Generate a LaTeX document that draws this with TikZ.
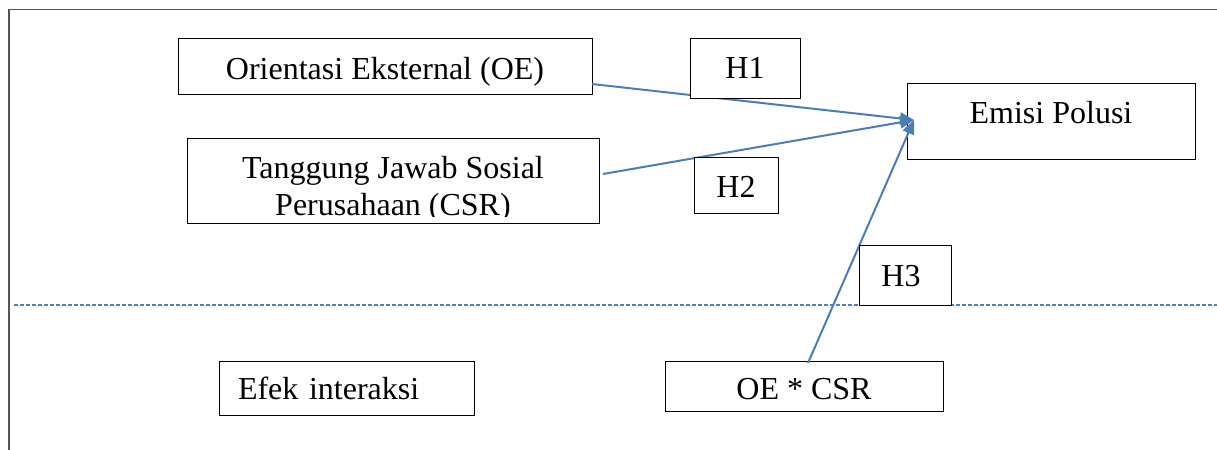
\documentclass[tikz,border=0pt]{standalone}
\usepackage{fontspec}
\setmainfont{Liberation Serif}
\usetikzlibrary{arrows.meta}
\definecolor{arrowblue}{HTML}{4A7EBB}
\definecolor{dashblue}{HTML}{4F81BD}
\definecolor{framegray}{HTML}{555555}
\tikzset{
  box/.style={draw=black, line width=0.5pt, fill=white, inner sep=0pt,
    font=\fontsize{16}{18.5}\selectfont},
  link/.style={draw=arrowblue, line width=1pt, -{Triangle[length=7pt,width=6pt]}},
  sep/.style={draw=dashblue, line width=0.6pt, dash pattern=on 2pt off 1pt},
  frame/.style={draw=framegray, line width=0.7pt},
}
\begin{document}
\begin{tikzpicture}[x=0.5pt,y=-0.5pt]
\useasboundingbox (0,0) rectangle (1217,450);
% frame
\coordinate (fl) at (9,450);
\coordinate (fc) at (9,9.5);
\coordinate (fr) at (1217,9.5);
\draw[frame] (fl) -- (fc) -- (fr);
% separator
\coordinate (sl) at (14,305);
\coordinate (sr) at (1217,305);
\draw[sep] (sl) -- (sr);
% boxes drawn beneath arrows
\node[box, minimum width=144pt, minimum height=38pt, text height=20pt, text depth=18pt] (ep) at (1051,121) {Emisi Polusi};
\node[box, minimum width=139pt, minimum height=25pt, text height=19pt, text depth=6pt] (oecsr) at (804,386) {OE * CSR};
\node[box, minimum width=127.5pt, minimum height=27pt, text height=19pt, text depth=8pt, inner xsep=9.5pt, text width=108.5pt, align=left] (efek) at (346.5,388) {Efek interaksi};
\node[box, minimum width=207pt, minimum height=28pt, text height=20.5pt, text depth=7.5pt] (oe) at (385,66) {Orientasi Eksternal (OE)};
\node[box, minimum width=206pt, minimum height=42.5pt] (csr) at (393,180.5) {};
\begin{scope}
  \clip (187,138) rectangle (599,216);
  \node[font=\fontsize{16}{18.5}\selectfont, align=center, anchor=base, inner sep=0pt] (csrtext) at (393,215) {Tanggung Jawab Sosial\\Perusahaan (CSR)};
\end{scope}
% arrows
\coordinate (tip) at (914,120);
\coordinate (s1) at (592,84);
\coordinate (s2) at (603,174);
\coordinate (s3) at (808,363);
\draw[link] (s1) -- (tip);
\draw[link] (s2) -- (tip);
\draw[link] (s3) -- (tip);
% hypothesis labels on top
\node[box, minimum width=55pt, minimum height=30pt, text height=20pt, text depth=10pt] (h1) at (745,68) {H1};
\node[box, minimum width=42pt, minimum height=28pt, text height=20pt, text depth=8pt] (h2) at (736,185) {H2};
\node[box, minimum width=46pt, minimum height=30pt, text height=20.5pt, text depth=9.5pt] (h3) at (905,275) {H3\hspace*{4pt}};
\end{tikzpicture}
\end{document}
